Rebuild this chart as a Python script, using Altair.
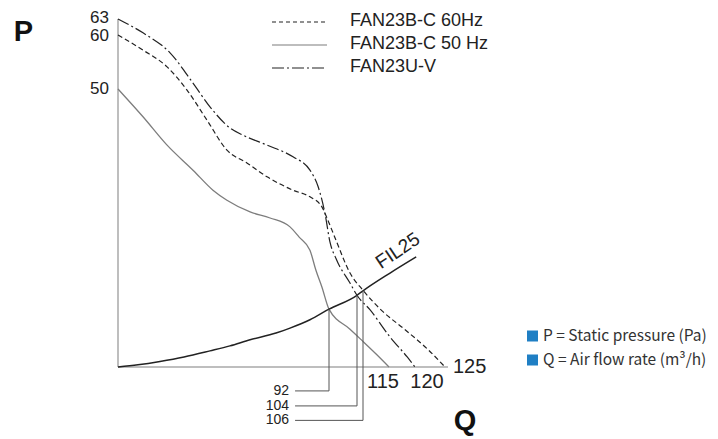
import altair as alt
import pandas as pd

# ---- values (Q = air flow rate, P = static pressure) ----
q_60hz = [0, 10.9, 21.4, 30.1, 38.8, 47.5, 56.2, 65.0, 76.3, 83.7, 88.9, 91.1, 95, 101, 106, 112.6, 118.1, 122.2, 125]
p_60hz = [60, 57.2, 54.1, 49.8, 44.4, 39.0, 36.7, 34.2, 31.8, 30.6, 28.8, 26.8, 22.8, 16.9, 13.8, 10.1, 6.7, 3.1, 0]

q_50hz = [0, 10.9, 21.4, 32.7, 41.4, 47.5, 57.6, 66.3, 75.0, 78.9, 83.7, 86.3, 88.9, 92, 101, 105, 110.8, 115]
p_50hz = [50, 45.0, 39.9, 35.4, 31.8, 30.0, 27.9, 26.8, 25.2, 23.4, 21.0, 17.4, 14.4, 10.4, 6.8, 5.1, 2.2, 0]

q_uv = [0, 10.9, 22.7, 32.7, 40.1, 48.8, 54.5, 65, 76.3, 83.7, 87.2, 90.3, 92.4, 95, 101, 104, 108.4, 115.2, 118.5, 120]
p_uv = [63, 60.4, 56.7, 51.1, 46.8, 43.0, 41.7, 39.9, 37.8, 35.4, 32.5, 27.5, 22.5, 19.5, 15.1, 12.9, 10.3, 5.4, 1.8, 0]

q_fil = [0, 8.7, 18.3, 28.8, 40.1, 48.8, 57.6, 68.9, 75.0, 83.7, 92, 104, 106, 115.2, 120.2]
p_fil = [0, 0.4, 1.0, 1.8, 2.9, 3.8, 4.9, 6.1, 7.0, 8.5, 10.4, 12.9, 13.7, 16.9, 19.8]

# operating points on FIL25 and their leader rows below the axis
op_q = [92, 104, 106]
op_p = [10.4, 12.9, 13.7]
op_row = [-4.3, -7.0, -9.6]
op_leader_start = 77.2
op_label_at = 74.6

y_ticks = [63, 60, 50]
x_ticks_below = [115, 120]
x_tick_end = 125
axis_p_max = 63
axis_q_max = 125.5
fil_label = ("FIL25", 116.7, 20.9)

series_names = ["FAN23B-C 60Hz", "FAN23B-C 50 Hz", "FAN23U-V"]
notes = ["P = Static pressure (Pa)", "Q = Air flow rate (m³/h)"]

# ---- scales (schematic, piecewise axes as in the drawing) ----
xs = alt.Scale(domain=[0, 92, 104, 106, 115, 120, 125],
               range=[0, 211, 239, 245, 271, 297, 327], nice=False, zero=False)
ys = alt.Scale(domain=[0, 50, 60, 63], range=[348, 70, 16, 0], nice=False, zero=False)

FONT = "Liberation Sans"


def X(f):
    return alt.X(f, type="quantitative", scale=xs, axis=None)


def Y(f):
    return alt.Y(f, type="quantitative", scale=ys, axis=None)


def line_df(q, p):
    return pd.DataFrame({"q": q, "p": p})


layers = []

# axes
axes_df = pd.DataFrame({"q": [0, 0], "q2": [0, axis_q_max], "p": [0, 0], "p2": [axis_p_max, 0]})
layers.append(alt.Chart(axes_df).mark_rule(color="#a8a8a8", strokeWidth=1.5).encode(
    x=X("q"), x2="q2", y=Y("p"), y2="p2"))

# curves
layers.append(alt.Chart(line_df(q_50hz, p_50hz)).mark_line(
    color="#7d7d7d", strokeWidth=1.3, interpolate="monotone").encode(x=X("q"), y=Y("p")))
layers.append(alt.Chart(line_df(q_60hz, p_60hz)).mark_line(
    color="#222222", strokeWidth=1.2, strokeDash=[5, 3], interpolate="monotone").encode(x=X("q"), y=Y("p")))
layers.append(alt.Chart(line_df(q_uv, p_uv)).mark_line(
    color="#222222", strokeWidth=1.2, strokeDash=[12, 3, 2, 3], interpolate="monotone").encode(x=X("q"), y=Y("p")))
layers.append(alt.Chart(line_df(q_fil, p_fil)).mark_line(
    color="#222222", strokeWidth=1.5, interpolate="monotone").encode(x=X("q"), y=Y("p")))

# operating-point leaders
op_df = pd.DataFrame({"q": op_q, "p": op_p, "row": op_row,
                      "start": [op_leader_start] * 3, "lab": [op_label_at] * 3,
                      "txt": [str(v) for v in op_q]})
layers.append(alt.Chart(op_df).mark_rule(color="#555555", strokeWidth=1).encode(
    x=X("q"), y=Y("p"), y2="row"))
layers.append(alt.Chart(op_df).mark_rule(color="#555555", strokeWidth=1).encode(
    x=X("start"), x2="q", y=Y("row")))
layers.append(alt.Chart(op_df).mark_text(font=FONT, fontSize=14, align="right", baseline="middle",
                                         color="#222222").encode(x=X("lab"), y=Y("row"), text="txt:N"))

# y tick labels
yt = pd.DataFrame({"q": [0] * len(y_ticks), "p": y_ticks, "txt": [str(v) for v in y_ticks]})
layers.append(alt.Chart(yt[yt.p == 63]).mark_text(font=FONT, fontSize=17, align="right", baseline="middle",
                                                 dx=-9, dy=-1.5, color="#222222").encode(
    x=X("q"), y=Y("p"), text="txt:N"))
layers.append(alt.Chart(yt[yt.p == 60]).mark_text(font=FONT, fontSize=17, align="right", baseline="middle",
                                                 dx=-9, dy=0.5, color="#222222").encode(
    x=X("q"), y=Y("p"), text="txt:N"))
layers.append(alt.Chart(yt[yt.p == 50]).mark_text(font=FONT, fontSize=17, align="right", baseline="middle",
                                                 dx=-9, dy=0, color="#222222").encode(
    x=X("q"), y=Y("p"), text="txt:N"))

# x tick labels
xt = pd.DataFrame({"q": x_ticks_below, "p": [0, 0], "txt": [str(v) for v in x_ticks_below]})
layers.append(alt.Chart(xt[xt.q == 115]).mark_text(font=FONT, fontSize=20, align="center", baseline="middle",
                                                  dx=-6, dy=15, color="#222222").encode(
    x=X("q"), y=Y("p"), text="txt:N"))
layers.append(alt.Chart(xt[xt.q == 120]).mark_text(font=FONT, fontSize=20, align="center", baseline="middle",
                                                  dx=12, dy=15, color="#222222").encode(
    x=X("q"), y=Y("p"), text="txt:N"))
xe = pd.DataFrame({"q": [x_tick_end], "p": [0], "txt": [str(x_tick_end)]})
layers.append(alt.Chart(xe).mark_text(font=FONT, fontSize=20, align="left", baseline="middle",
                                      dx=8, color="#222222").encode(x=X("q"), y=Y("p"), text="txt:N"))

# FIL25 label
fl = pd.DataFrame({"q": [fil_label[1]], "p": [fil_label[2]], "txt": [fil_label[0]]})
layers.append(alt.Chart(fl).mark_text(font=FONT, fontSize=19, angle=326, align="center", baseline="middle",
                                      color="#222222").encode(x=X("q"), y=Y("p"), text="txt:N"))

# legend (top)
leg_rows = [3, 26, 49]
leg_styles = [dict(color="#222222", strokeDash=[4, 3]),
              dict(color="#7d7d7d"),
              dict(color="#222222", strokeDash=[12, 3, 2, 3])]
for name, yy, st in zip(series_names, leg_rows, leg_styles):
    d = pd.DataFrame({"txt": [name]})
    layers.append(alt.Chart(d).mark_rule(strokeWidth=1.2, **st).encode(
        x=alt.value(154), x2=alt.value(209), y=alt.value(yy)))
    layers.append(alt.Chart(d).mark_text(font=FONT, fontSize=18, align="left", baseline="middle",
                                         color="#222222").encode(
        x=alt.value(232), y=alt.value(yy - 1), text="txt:N"))

# big axis letters
for letter, px, py in [("P", -94.5, 13), ("Q", 347, 402)]:
    d = pd.DataFrame({"txt": [letter]})
    layers.append(alt.Chart(d).mark_text(font=FONT, fontSize=29, fontWeight="bold", align="center",
                                         baseline="middle", color="#111111").encode(
        x=alt.value(px), y=alt.value(py), text="txt:N"))

# notes on the right
for note, yy in zip(notes, [317, 341]):
    d = pd.DataFrame({"txt": [note]})
    layers.append(alt.Chart(d).mark_square(size=121, color="#1f7fc4", opacity=1).encode(
        x=alt.value(414.5), y=alt.value(yy)))
    layers.append(alt.Chart(d).mark_text(font="Noto Sans CJK SC", fontSize=15.5, align="left",
                                         baseline="middle", color="#333333").encode(
        x=alt.value(425), y=alt.value(yy), text="txt:N"))

chart = alt.layer(*layers).properties(
    width=327, height=348, autosize="none",
    padding={"left": 110, "top": 11, "right": 265, "bottom": 72},
    background="white",
).configure_view(stroke=None)

chart.save("out.html", embed_options={"renderer": "svg", "actions": False})
